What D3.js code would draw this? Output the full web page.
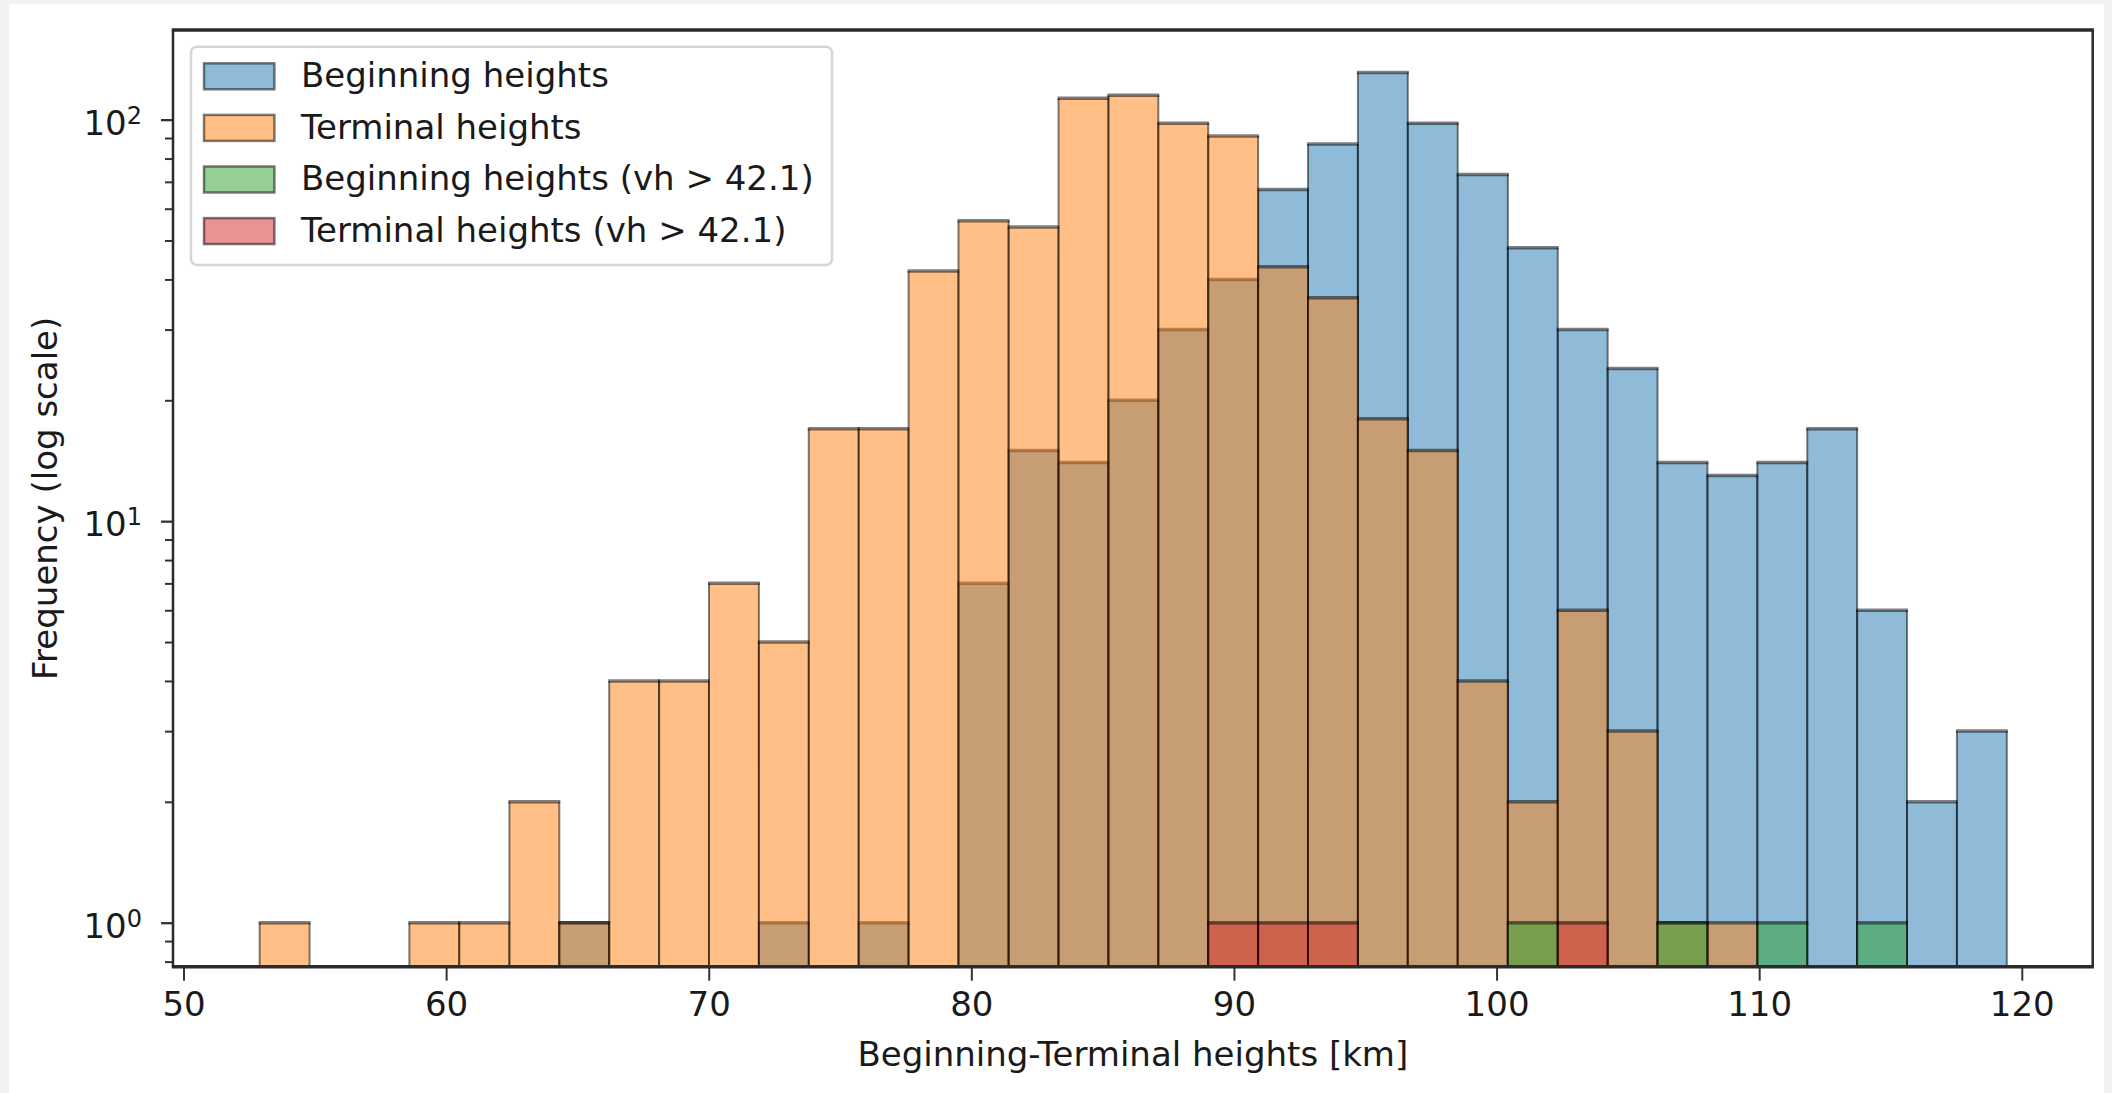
<!DOCTYPE html>
<html><head><meta charset="utf-8">
<script src="https://cdn.jsdelivr.net/npm/d3@7"></script>
<style>html,body{margin:0;padding:0;background:#f2f2f2;overflow:hidden}</style>
</head><body>
<script>
// ---- data ----
const binEdges = [52.90,54.80,56.70,58.60,60.50,62.41,64.31,66.21,68.11,70.01,71.91,73.81,75.71,77.61,79.51,81.42,83.32,85.22,87.12,89.02,90.92,92.82,94.72,96.62,98.52,100.43,102.33,104.23,106.13,108.03,109.93,111.83,113.73,115.63,117.53,119.43];
const beginCounts = [0,0,0,0,0,0,1,0,0,0,1,0,1,0,7,15,14,20,30,40,67,87,131,98,73,48,30,24,14,13,14,17,6,2,3];
const terminalCounts = [1,0,0,1,1,2,1,4,4,7,5,17,17,42,56,54,113,115,98,91,43,36,18,15,4,2,6,3,1,1,0,0,0,0,0];
const beginFastCounts = [0,0,0,0,0,0,0,0,0,0,0,0,0,0,0,0,0,0,0,0,0,0,0,0,0,1,0,0,1,0,1,0,1,0,0];
const terminalFastCounts = [0,0,0,0,0,0,0,0,0,0,0,0,0,0,0,0,0,0,0,1,1,1,0,0,0,0,1,0,0,0,0,0,0,0,0];
const seriesNames = ["Beginning heights","Terminal heights","Beginning heights (vh > 42.1)","Terminal heights (vh > 42.1)"];
const seriesColors = ["#1f77b4","#ff7f0e","#2ca02c","#d62728"];
const xTicks = [50,60,70,80,90,100,110,120];
const yMajorTicks = [1,10,100];
const yMajorExps = ["0","1","2"];
const yMinorTicks = [0.8,0.9,2,3,4,5,6,7,8,9,20,30,40,50,60,70,80,90];
const xLabel = "Beginning-Terminal heights [km]";
const yLabel = "Frequency (log scale)";

// ---- layout ----
const W = 2112, H = 1093;
const P = {left:173, right:2092.7, top:30, bottom:966.7};
const FONT = "DejaVu Sans";

const svg = d3.select("body").append("svg").attr("width", W).attr("height", H)
  .style("display","block");
svg.append("rect").attr("x",0).attr("y",0).attr("width",W).attr("height",H).attr("fill","#f2f2f2");
svg.append("rect").attr("x",9).attr("y",4).attr("width",2095).attr("height",H-4).attr("fill","#ffffff");

const x = d3.scaleLinear().domain([49.6, 122.7]).range([P.left, P.right]);
const y = d3.scaleLog().domain([0.777, 167.2]).range([P.bottom, P.top]);

svg.append("clipPath").attr("id","plotclip").append("rect")
  .attr("x",P.left).attr("y",P.top).attr("width",P.right-P.left).attr("height",P.bottom-P.top);

const plotG = svg.append("g").attr("clip-path","url(#plotclip)");
const allSeries = [beginCounts, terminalCounts, beginFastCounts, terminalFastCounts];

allSeries.forEach((counts, si) => {
  const g = plotG.append("g");
  const bins = counts.map((c,i)=>({c, x0:binEdges[i], x1:binEdges[i+1]})).filter(d=>d.c>0);
  const bg = g.selectAll("g").data(bins).join("g");
  bg.append("rect")
    .attr("x", d=>x(d.x0)).attr("width", d=>x(d.x1)-x(d.x0))
    .attr("y", d=>y(d.c)).attr("height", d=>P.bottom + 20 - y(d.c))
    .attr("fill", seriesColors[si]).attr("fill-opacity", 0.5);
  bg.append("path")
    .attr("d", d=>`M${x(d.x0)},${P.bottom+20}V${y(d.c)}M${x(d.x1)},${P.bottom+20}V${y(d.c)}`)
    .attr("fill","none").attr("stroke","#000").attr("stroke-opacity",0.5).attr("stroke-width",2);
  bg.append("line")
    .attr("x1", d=>x(d.x0)-1).attr("x2", d=>x(d.x1)+1)
    .attr("y1", d=>y(d.c)).attr("y2", d=>y(d.c))
    .attr("stroke","#000").attr("stroke-opacity",0.5).attr("stroke-width",3.5);
});

// ---- axes ----
const xAxis = svg.append("g").attr("transform",`translate(0,${P.bottom})`)
  .call(d3.axisBottom(x).tickValues(xTicks).tickSize(14).tickFormat(d3.format("d")));
xAxis.select(".domain").remove();
xAxis.selectAll("line").attr("stroke","#333").attr("stroke-width",2);
xAxis.selectAll("text").attr("y",49.8).attr("dy",null)
  .attr("font-family",FONT).attr("font-size",34).attr("fill","#1a1a1a");

const yAxisMinor = svg.append("g").attr("transform",`translate(${P.left},0)`)
  .call(d3.axisLeft(y).tickValues(yMinorTicks).tickSize(8).tickFormat(""));
yAxisMinor.select(".domain").remove();
yAxisMinor.selectAll("line").attr("stroke","#333").attr("stroke-width",2);

const yAxis = svg.append("g").attr("transform",`translate(${P.left},0)`)
  .call(d3.axisLeft(y).tickValues(yMajorTicks).tickSize(12).tickFormat(""));
yAxis.select(".domain").remove();
yAxis.selectAll("line").attr("stroke","#333").attr("stroke-width",2.3);
yAxis.selectAll(".tick").each(function(d,i){
  const t = d3.select(this).select("text")
    .attr("x",-31).attr("y",14.6).attr("dy",null).attr("text-anchor","end")
    .attr("font-family",FONT).attr("fill","#1a1a1a");
  t.text(null);
  t.append("tspan").attr("font-size",34).text("10");
  t.append("tspan").attr("font-size",24).attr("dy",-11).text(yMajorExps[i]);
});

// spines
const sp = svg.append("g").attr("stroke","#2b2b2b").attr("fill","none");
sp.append("line").attr("x1",P.left-1.2).attr("x2",P.right+1.2).attr("y1",P.top).attr("y2",P.top).attr("stroke-width",3.5);
sp.append("line").attr("x1",P.left-1.2).attr("x2",P.right+1.2).attr("y1",P.bottom).attr("y2",P.bottom).attr("stroke-width",3.5);
sp.append("line").attr("x1",P.left).attr("x2",P.left).attr("y1",P.top).attr("y2",P.bottom).attr("stroke-width",2.5);
sp.append("line").attr("x1",P.right).attr("x2",P.right).attr("y1",P.top).attr("y2",P.bottom).attr("stroke-width",2.5);

// axis labels
svg.append("text").attr("x",(P.left+P.right)/2).attr("y",1066)
  .attr("text-anchor","middle").attr("font-family",FONT).attr("font-size",34).attr("fill","#1a1a1a")
  .text(xLabel);
svg.append("text").attr("transform",`translate(57.3,${(P.top+P.bottom)/2}) rotate(-90)`)
  .attr("text-anchor","middle").attr("font-family",FONT).attr("font-size",34).attr("fill","#1a1a1a")
  .text(yLabel);

// ---- legend ----
const lg = svg.append("g");
lg.append("rect").attr("x",191).attr("y",46.7).attr("width",641).attr("height",218.3)
  .attr("rx",6).attr("fill","#fff").attr("fill-opacity",0.8)
  .attr("stroke","#d6d6d6").attr("stroke-width",2.5);
seriesNames.forEach((name,i)=>{
  const cy = 76.3 + i*51.6;
  lg.append("rect").attr("x",204).attr("y",cy-13).attr("width",70.4).attr("height",26)
    .attr("fill",seriesColors[i]).attr("fill-opacity",0.5)
    .attr("stroke","#000").attr("stroke-opacity",0.5).attr("stroke-width",2.5);
  lg.append("text").attr("x",301).attr("y",cy+10.7)
    .attr("font-family",FONT).attr("font-size",34).attr("fill","#1a1a1a").text(name);
});
</script>
</body></html>
